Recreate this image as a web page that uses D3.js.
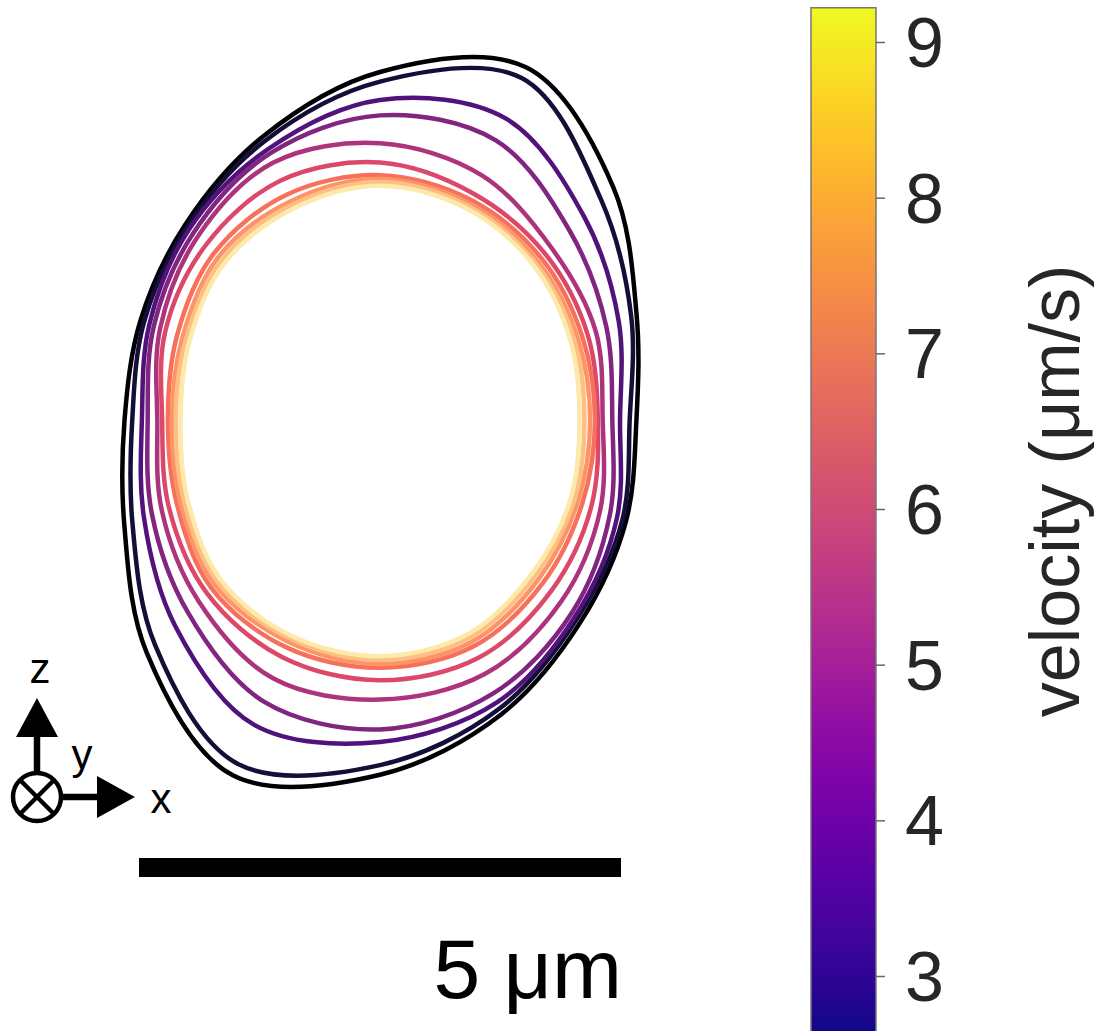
<!DOCTYPE html>
<html><head><meta charset="utf-8">
<script src="https://cdn.jsdelivr.net/npm/d3@7"></script>
<style>
body{margin:0;background:#fff}
svg{display:block}
text{font-family:"Liberation Sans",Arial,Helvetica,sans-serif}
</style>
</head><body>
<svg id="chart" width="1101" height="1031"></svg>
<script>
// ---- data ----
// polar sampling angles (degrees, counter-clockwise from +x) of each cell outline
const angles = [0, 22.5, 45, 67.5, 90, 112.5, 135, 157.5, 180, 202.5, 225, 247.5, 270, 292.5, 315, 337.5];
// velocity of each outline (µm/s)
const velocities = [2.65, 3.3, 4.3, 5.1, 5.8, 6.6, 7.3, 7.8, 8.4, 9.0];
// radius (µm) of each outline at each angle, from the common centre
const r1  = [2.66, 2.88, 3.42, 3.96, 3.61, 3.18, 2.86, 2.69, 2.65, 2.87, 3.42, 3.99, 3.68, 3.30, 2.95, 2.76];
const r2  = [2.59, 2.82, 3.24, 3.84, 3.51, 3.13, 2.83, 2.65, 2.57, 2.78, 3.30, 3.86, 3.58, 3.24, 2.90, 2.72];
const r3  = [2.49, 2.68, 2.99, 3.39, 3.32, 3.04, 2.80, 2.59, 2.47, 2.65, 3.01, 3.42, 3.34, 3.17, 2.87, 2.66];
const r4  = [2.41, 2.54, 2.78, 3.14, 3.16, 2.99, 2.74, 2.54, 2.41, 2.56, 2.82, 3.16, 3.21, 3.07, 2.82, 2.58];
const r5  = [2.31, 2.42, 2.52, 2.75, 2.87, 2.89, 2.68, 2.47, 2.31, 2.45, 2.66, 2.90, 2.90, 2.85, 2.66, 2.47];
const r6  = [2.26, 2.33, 2.43, 2.54, 2.67, 2.69, 2.56, 2.41, 2.26, 2.37, 2.54, 2.66, 2.70, 2.67, 2.51, 2.37];
const r7  = [2.23, 2.27, 2.37, 2.47, 2.54, 2.53, 2.44, 2.28, 2.20, 2.28, 2.47, 2.55, 2.57, 2.54, 2.39, 2.27];
const r8  = [2.18, 2.22, 2.32, 2.43, 2.50, 2.45, 2.38, 2.22, 2.16, 2.24, 2.42, 2.49, 2.53, 2.49, 2.33, 2.22];
const r9  = [2.12, 2.18, 2.29, 2.40, 2.47, 2.41, 2.33, 2.18, 2.12, 2.20, 2.38, 2.45, 2.49, 2.44, 2.28, 2.18];
const r10 = [2.07, 2.14, 2.26, 2.37, 2.43, 2.37, 2.29, 2.14, 2.07, 2.16, 2.34, 2.42, 2.45, 2.40, 2.24, 2.14];
const radii = [r1, r2, r3, r4, r5, r6, r7, r8, r9, r10];
// colour bar
const cbDomain = [2.6, 9.22];
const cbTicks = [3, 4, 5, 6, 7, 8, 9];
const cbLabel = "velocity (μm/s)";
// scale bar (µm)
const scaleBarStart = -2.5;
const scaleBarLength = 5;
const scaleBarLabel = "5 μm";

// ---- drawing ----
const svg = d3.select("#chart");
const pxPerUm = 96.4;
const cx = 380, cy = 420;
const x = d3.scaleLinear().domain([0, 5]).range([cx, cx + 5 * pxPerUm]);
const y = d3.scaleLinear().domain([0, 5]).range([cy, cy - 5 * pxPerUm]);
const colorLine = d3.scaleSequential(d3.interpolateMagma).domain([2.6, 9.3]);

const line = d3.line()
  .x(d => x(d[0])).y(d => y(d[1]))
  .curve(d3.curveCatmullRomClosed.alpha(0.5));

const outlines = radii.map((rs, i) => ({
  v: velocities[i],
  pts: rs.map((r, j) => {
    const a = angles[j] * Math.PI / 180;
    return [r * Math.cos(a), r * Math.sin(a)];
  })
}));

svg.append("g").selectAll("path").data(outlines).join("path")
  .attr("d", d => line(d.pts))
  .attr("fill", "none")
  .attr("stroke", d => colorLine(d.v))
  .attr("stroke-width", 4.5)
  .attr("stroke-linejoin", "round");

// colour bar
const cbX = 811, cbW = 65;
const cbY = d3.scaleLinear().domain([9, 3]).range([42, 976]);
const defs = svg.append("defs");
const grad = defs.append("linearGradient").attr("id", "cbgrad")
  .attr("x1", 0).attr("y1", 1).attr("x2", 0).attr("y2", 0);
d3.range(0, 1.0001, 0.05).forEach(t => {
  grad.append("stop").attr("offset", t).attr("stop-color", d3.interpolatePlasma(t));
});
svg.append("rect")
  .attr("x", cbX).attr("y", cbY(cbDomain[1]))
  .attr("width", cbW).attr("height", cbY(cbDomain[0]) - cbY(cbDomain[1]))
  .attr("fill", "url(#cbgrad)")
  .attr("stroke", "#777").attr("stroke-width", 1.5);

const cbAxis = svg.append("g")
  .attr("transform", `translate(${cbX + cbW},0)`)
  .call(d3.axisRight(cbY).tickValues(cbTicks).tickSize(9).tickPadding(20).tickFormat(d3.format("d")));
cbAxis.select(".domain").remove();
cbAxis.selectAll(".tick line").attr("stroke", "#666").attr("stroke-width", 1.5);
cbAxis.selectAll(".tick text")
  .attr("font-size", 70).attr("fill", "#262626")
  .attr("font-family", '"Liberation Sans",Arial,sans-serif')
  .attr("dy", "0.35em");

svg.append("text")
  .attr("transform", "translate(1079,491) rotate(-90)")
  .attr("text-anchor", "middle")
  .attr("font-size", 70).attr("fill", "#262626")
  .text(cbLabel);

// scale bar
svg.append("rect")
  .attr("x", x(scaleBarStart)).attr("y", 858)
  .attr("width", x(scaleBarStart + scaleBarLength) - x(scaleBarStart)).attr("height", 19)
  .attr("fill", "#000");
svg.append("text")
  .attr("x", x(scaleBarStart + scaleBarLength) + 1).attr("y", 998)
  .attr("text-anchor", "end").attr("font-size", 84).attr("fill", "#000")
  .text(scaleBarLabel);

// axis triad
const tri = svg.append("g");
tri.append("line").attr("x1", 37).attr("y1", 774).attr("x2", 37).attr("y2", 735)
  .attr("stroke", "#000").attr("stroke-width", 6.5);
tri.append("path").attr("d", "M37,698 L16,737 L58,737 Z").attr("fill", "#000");
tri.append("line").attr("x1", 60).attr("y1", 797).attr("x2", 99).attr("y2", 797)
  .attr("stroke", "#000").attr("stroke-width", 6.5);
tri.append("path").attr("d", "M135,797 L97,776 L97,818 Z").attr("fill", "#000");
tri.append("circle").attr("cx", 37).attr("cy", 797).attr("r", 24)
  .attr("fill", "#fff").attr("stroke", "#000").attr("stroke-width", 4.5);
tri.append("line").attr("x1", 20).attr("y1", 780).attr("x2", 54).attr("y2", 814)
  .attr("stroke", "#000").attr("stroke-width", 4.5);
tri.append("line").attr("x1", 54).attr("y1", 780).attr("x2", 20).attr("y2", 814)
  .attr("stroke", "#000").attr("stroke-width", 4.5);
tri.append("text").attr("x", 40).attr("y", 683).attr("text-anchor", "middle").attr("font-size", 42).text("z");
tri.append("text").attr("x", 82).attr("y", 769).attr("text-anchor", "middle").attr("font-size", 42).text("y");
tri.append("text").attr("x", 161).attr("y", 813).attr("text-anchor", "middle").attr("font-size", 42).text("x");
</script>
</body></html>
